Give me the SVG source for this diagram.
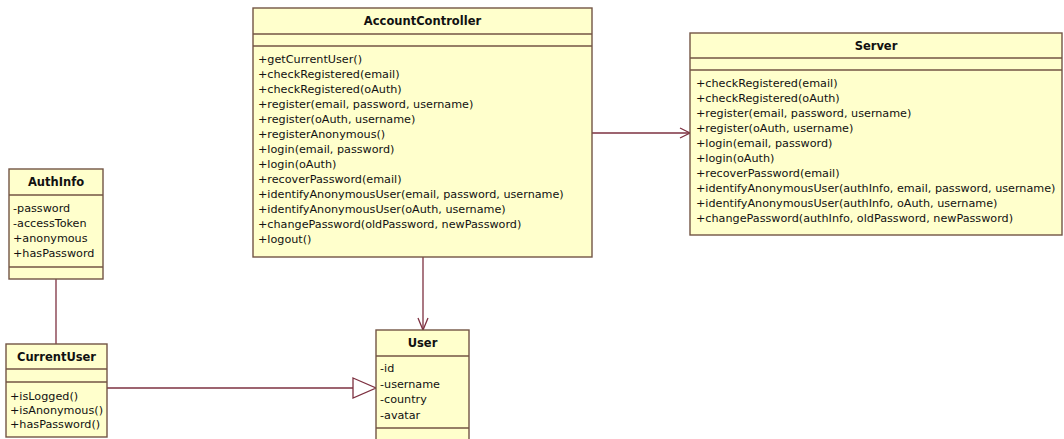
<svg xmlns="http://www.w3.org/2000/svg" width="1064" height="439" viewBox="0 0 1064 439">
<style>
.box{fill:#ffffcc;stroke:#735545;stroke-width:1.4}
.sep{stroke:#735545;stroke-width:1.4}
.t{font-family:"DejaVu Sans",Verdana,sans-serif;font-size:11.2px;fill:#111111}
.h{font-weight:bold;text-anchor:middle;font-size:11.5px}
.c{stroke:#7d3040;stroke-width:1.3;fill:none}
.tri{stroke:#7d3040;stroke-width:1.3;fill:#ffffff}
</style>
<rect width="1064" height="439" fill="#ffffff"/>
<g id="connectors">
<line class="c" x1="592" y1="133" x2="690" y2="133"/>
<polyline class="c" points="680,128 690,133 680,138"/>
<line class="c" x1="423" y1="257" x2="423" y2="330"/>
<polyline class="c" points="418,318 423,330 428,318"/>
<line class="c" x1="56" y1="279" x2="56" y2="344"/>
<line class="c" x1="107" y1="388" x2="353" y2="388"/>
<polygon class="tri" points="353,378 376,388 353,398"/>
</g>
<g id="AccountController">
<rect class="box" x="253" y="8" width="339" height="249"/>
<line class="sep" x1="253" y1="34" x2="592" y2="34"/>
<line class="sep" x1="253" y1="46" x2="592" y2="46"/>
<text class="t h" x="422.5" y="25">AccountController</text>
<text class="t" x="258" y="63">+getCurrentUser()</text>
<text class="t" x="258" y="78">+checkRegistered(email)</text>
<text class="t" x="258" y="93">+checkRegistered(oAuth)</text>
<text class="t" x="258" y="108">+register(email, password, username)</text>
<text class="t" x="258" y="123">+register(oAuth, username)</text>
<text class="t" x="258" y="138">+registerAnonymous()</text>
<text class="t" x="258" y="153">+login(email, password)</text>
<text class="t" x="258" y="168">+login(oAuth)</text>
<text class="t" x="258" y="183">+recoverPassword(email)</text>
<text class="t" x="258" y="198">+identifyAnonymousUser(email, password, username)</text>
<text class="t" x="258" y="213">+identifyAnonymousUser(oAuth, username)</text>
<text class="t" x="258" y="228">+changePassword(oldPassword, newPassword)</text>
<text class="t" x="258" y="243">+logout()</text>
</g>
<g id="Server">
<rect class="box" x="690" y="33" width="372" height="202"/>
<line class="sep" x1="690" y1="58" x2="1062" y2="58"/>
<line class="sep" x1="690" y1="70" x2="1062" y2="70"/>
<text class="t h" x="876" y="50">Server</text>
<text class="t" x="696" y="87">+checkRegistered(email)</text>
<text class="t" x="696" y="102">+checkRegistered(oAuth)</text>
<text class="t" x="696" y="117">+register(email, password, username)</text>
<text class="t" x="696" y="132">+register(oAuth, username)</text>
<text class="t" x="696" y="147">+login(email, password)</text>
<text class="t" x="696" y="162">+login(oAuth)</text>
<text class="t" x="696" y="177">+recoverPassword(email)</text>
<text class="t" x="696" y="192">+identifyAnonymousUser(authInfo, email, password, username)</text>
<text class="t" x="696" y="207">+identifyAnonymousUser(authInfo, oAuth, username)</text>
<text class="t" x="696" y="222">+changePassword(authInfo, oldPassword, newPassword)</text>
</g>
<g id="User">
<rect class="box" x="376" y="330" width="93" height="125"/>
<line class="sep" x1="376" y1="356" x2="469" y2="356"/>
<line class="sep" x1="376" y1="428" x2="469" y2="428"/>
<text class="t h" x="422.5" y="347">User</text>
<text class="t" x="380" y="372">-id</text>
<text class="t" x="380" y="388">-username</text>
<text class="t" x="380" y="403">-country</text>
<text class="t" x="380" y="419">-avatar</text>
</g>
<g id="AuthInfo">
<rect class="box" x="9" y="169" width="94" height="110"/>
<line class="sep" x1="9" y1="195" x2="103" y2="195"/>
<line class="sep" x1="9" y1="267" x2="103" y2="267"/>
<text class="t h" x="56" y="186">AuthInfo</text>
<text class="t" x="13" y="212">-password</text>
<text class="t" x="13" y="227">-accessToken</text>
<text class="t" x="13" y="242">+anonymous</text>
<text class="t" x="13" y="257">+hasPassword</text>
</g>
<g id="CurrentUser">
<rect class="box" x="6" y="344" width="101" height="93"/>
<line class="sep" x1="6" y1="369" x2="107" y2="369"/>
<line class="sep" x1="6" y1="382" x2="107" y2="382"/>
<text class="t h" x="56.5" y="361">CurrentUser</text>
<text class="t" x="10" y="400">+isLogged()</text>
<text class="t" x="10" y="414">+isAnonymous()</text>
<text class="t" x="10" y="428">+hasPassword()</text>
</g>
</svg>
